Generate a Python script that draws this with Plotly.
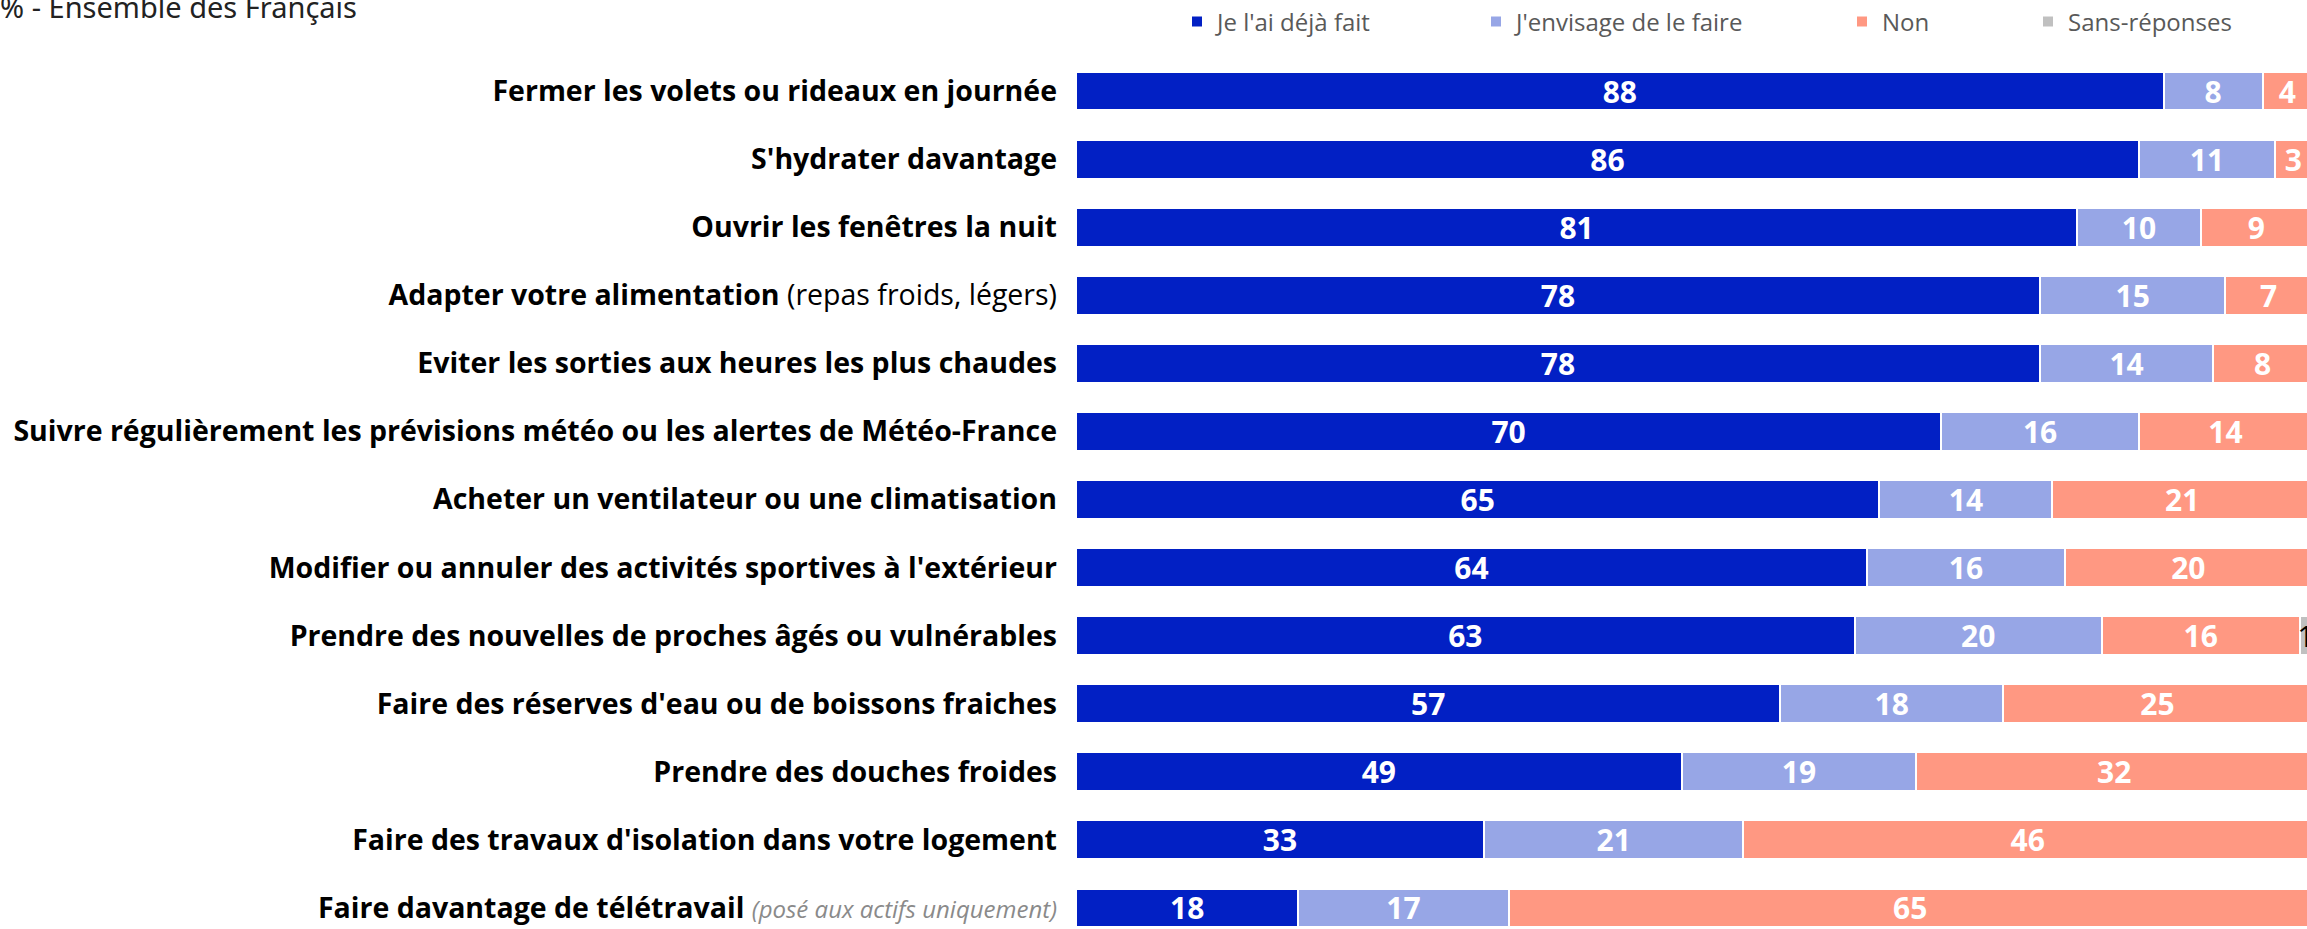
import plotly.graph_objects as go

categories = [
    "Fermer les volets ou rideaux en journée",
    "S'hydrater davantage",
    "Ouvrir les fenêtres la nuit",
    "Adapter votre alimentation (repas froids, légers)",
    "Eviter les sorties aux heures les plus chaudes",
    "Suivre régulièrement les prévisions météo ou les alertes de Météo-France",
    "Acheter un ventilateur ou une climatisation",
    "Modifier ou annuler des activités sportives à l'extérieur",
    "Prendre des nouvelles de proches âgés ou vulnérables",
    "Faire des réserves d'eau ou de boissons fraiches",
    "Prendre des douches froides",
    "Faire des travaux d'isolation dans votre logement",
    "Faire davantage de télétravail (posé aux actifs uniquement)",
]

tick_labels = [
    "<b>Fermer les volets ou rideaux en journée</b>",
    "<b>S'hydrater davantage</b>",
    "<b>Ouvrir les fenêtres la nuit</b>",
    "<b>Adapter votre alimentation</b> (repas froids, légers)",
    "<b>Eviter les sorties aux heures les plus chaudes</b>",
    "<b>Suivre régulièrement les prévisions météo ou les alertes de Météo-France</b>",
    "<b>Acheter un ventilateur ou une climatisation</b>",
    "<b>Modifier ou annuler des activités sportives à l'extérieur</b>",
    "<b>Prendre des nouvelles de proches âgés ou vulnérables</b>",
    "<b>Faire des réserves d'eau ou de boissons fraiches</b>",
    "<b>Prendre des douches froides</b>",
    "<b>Faire des travaux d'isolation dans votre logement</b>",
    "<b>Faire davantage de télétravail</b> <i><span style='color:#8a8a8a;font-size:24px'>(posé aux actifs uniquement)</span></i>",
]

series_names = ["Je l'ai déjà fait", "J'envisage de le faire", "Non", "Sans-réponses"]
deja_fait = [88, 86, 81, 78, 78, 70, 65, 64, 63, 57, 49, 33, 18]
envisage = [8, 11, 10, 15, 14, 16, 14, 16, 20, 18, 19, 21, 17]
non = [4, 3, 9, 7, 8, 14, 21, 20, 16, 25, 32, 46, 65]
sans_reponse = [0, 0, 0, 0, 0, 0, 0, 0, 1, 0, 0, 0, 0]

title_text = "% - Ensemble des Français"

colors = ["#0220C4", "#97A6E6", "#FF9882", "#C0C0C0"]
text_colors = ["white", "white", "white", "black"]
text_weights = ["bold", "bold", "bold", "normal"]
legend_ids = ["legend", "legend2", "legend3", "legend4"]
legend_x_px = [1177, 1476, 1842, 2028]

W, H = 2307, 929
fig = go.Figure()
for name, vals, col, tcol, tw, lid in zip(series_names,
                                          [deja_fait, envisage, non, sans_reponse],
                                          colors, text_colors, text_weights, legend_ids):
    fig.add_trace(go.Bar(
        y=categories, x=vals, name=name, orientation="h",
        marker=dict(color=col, line=dict(color="white", width=2)),
        text=[str(v) if v else "" for v in vals],
        textposition="inside", insidetextanchor="middle", textangle=0,
        constraintext="none",
        textfont=dict(family="Open Sans", size=30, color=tcol, weight=tw),
        legend=lid, hoverinfo="skip",
    ))

layout_legends = {}
for lid, xpx in zip(legend_ids, legend_x_px):
    layout_legends[lid] = dict(
        orientation="h", xref="container", yref="container",
        x=xpx / W, y=1 - 22 / H, xanchor="left", yanchor="middle",
        font=dict(family="Open Sans", size=24, color="#595959"),
        bgcolor="rgba(0,0,0,0)", borderwidth=0,
    )

top = 56.5
fig.update_layout(
    width=W, height=H,
    margin=dict(l=1076, r=0, t=top, b=0, pad=0),
    barmode="stack", bargap=0.43,
    plot_bgcolor="white", paper_bgcolor="white",
    showlegend=True,
    title=dict(text=title_text, x=0.0, xref="container", xanchor="left",
               y=1 - 8 / H, yref="container", yanchor="middle",
               font=dict(family="Noto Sans", size=29, color="#222222")),
    **layout_legends,
)
fig.update_xaxes(range=[0, 99.6], showgrid=False, zeroline=False,
                 showticklabels=False, showline=False, fixedrange=True)
fig.update_yaxes(type="category", categoryorder="array", categoryarray=categories,
                 range=[12.31, -0.5], autorange=False,
                 tickvals=categories, ticktext=tick_labels,
                 ticks="", ticklabelstandoff=18,
                 tickfont=dict(family="Open Sans", size=28.5, color="black"),
                 showgrid=False, zeroline=False, showline=False)

fig.write_html("out.html", config={"displayModeBar": False},
               post_script="document.body.style.margin='0';document.body.style.overflow='hidden';")
